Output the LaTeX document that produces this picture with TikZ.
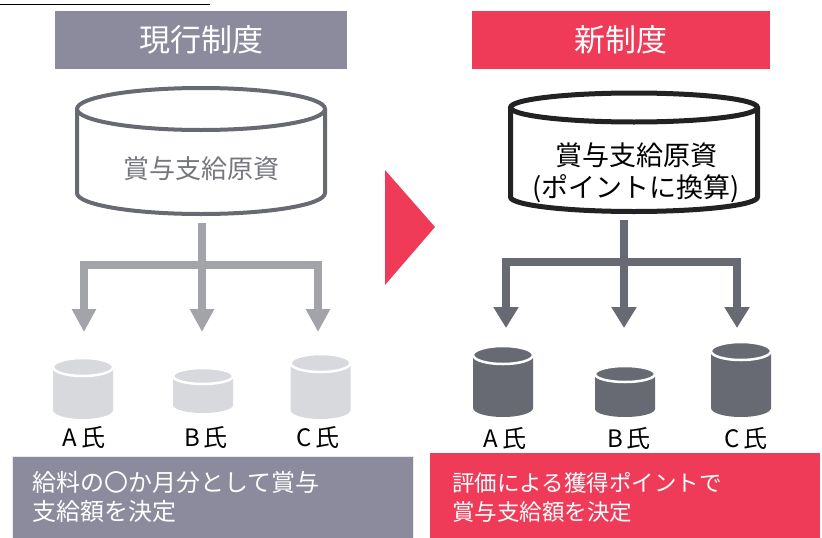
\documentclass[tikz,border=0pt]{standalone}
\usepackage{fontspec}
\setmainfont{Noto Sans CJK JP}
\usetikzlibrary{arrows.meta}
\definecolor{hdrgray}{RGB}{139,139,157}
\definecolor{hdrred}{RGB}{239,58,88}
\definecolor{cylgray}{RGB}{104,106,114}
\definecolor{cyltext}{RGB}{118,119,125}
\definecolor{arrlight}{RGB}{162,164,170}
\definecolor{smalllight}{RGB}{216,217,220}
\definecolor{darkgray}{RGB}{103,106,115}
\definecolor{cylblack}{RGB}{34,34,36}
\newcommand{\scyl}[6]{%
  \fill[#6] (#1-#4,#2+#5) -- (#1-#4,#3-#5) arc[start angle=180,end angle=0,x radius=#4,y radius=#5] -- (#1+#4,#2+#5) -- cycle;
  \filldraw[fill=#6,draw=white,line width=2.5pt] (#1,#2+#5) ellipse[x radius=#4,y radius=#5];
}
\begin{document}
\begin{tikzpicture}[x=1pt,y=-1pt,
  hdr/.style={text=white,inner sep=0pt,font=\fontsize{31}{31}\selectfont},
  lbl/.style={font=\fontsize{24}{24}\selectfont,inner sep=0pt},
  arrL/.style={draw=arrlight,line width=8pt,-{Triangle[width=23pt,length=23pt]}},
  arrR/.style={draw=darkgray,line width=8pt,-{Triangle[width=24pt,length=21pt]}},
  barL/.style={draw=arrlight,line width=8pt},
  barR/.style={draw=darkgray,line width=8pt}]
\useasboundingbox (0,0) rectangle (822,538);
% top cut underline
\draw[line width=1.5pt] (0,4.5) -- (210,4.5);
% headers
\node[hdr,fill=hdrgray,minimum width=292pt,minimum height=58pt] (hL) at (201,40) {現行制度};
\node[hdr,fill=hdrred,minimum width=298pt,minimum height=58pt] (hR) at (621,40) {新制度};
% left big cylinder
\filldraw[fill=white,draw=cylgray,line width=4pt] (77,109) -- (77,193) arc[start angle=180,end angle=0,x radius=124,y radius=21] -- (325,109);
\draw[draw=cylgray,line width=4pt,fill=white] (201,109) ellipse[x radius=124,y radius=21];
\node[font=\fontsize{26}{26}\selectfont,text=cyltext] (cL) at (201,169) {賞与支給原資};
% right big cylinder
\filldraw[fill=white,draw=cylblack,line width=5pt] (510.5,107.5) -- (510.5,197) arc[start angle=180,end angle=0,x radius=123.5,y radius=14.5] -- (757.5,107.5);
\draw[draw=cylblack,line width=5pt,fill=white] (634,107.5) ellipse[x radius=123.5,y radius=14.5];
\node[font=\fontsize{27}{32}\selectfont,align=center,text=black] (cR) at (636,173) {賞与支給原資\\(ポイントに換算)};
% red triangle
\fill[hdrred] (385,170) -- (435,227) -- (385,285) -- cycle;
% left arrows
\coordinate (Ls) at (202,223);
\coordinate (Lj) at (202,265);
\coordinate (LtA) at (84,332);
\coordinate (LtB) at (202,332);
\coordinate (LtC) at (318,332);
\draw[barL] (80,265) -- (322,265);
\draw[arrL] (Ls) -- (LtB);
\draw[arrL] (Lj) -| (LtA);
\draw[arrL] (Lj) -| (LtC);
% right arrows
\coordinate (Rs) at (624,220);
\coordinate (Rj) at (624,262);
\coordinate (RtA) at (506,328);
\coordinate (RtB) at (624,328);
\coordinate (RtC) at (737,328);
\draw[barR] (502,262) -- (741,262);
\draw[arrR] (Rs) -- (RtB);
\draw[arrR] (Rj) -| (RtA);
\draw[arrR] (Rj) -| (RtC);
% small cylinders left
\scyl{83}{358}{419}{30}{9}{smalllight}
\scyl{203}{368}{413}{30}{8}{smalllight}
\scyl{320.5}{354}{419}{30}{9}{smalllight}
% small cylinders right
\scyl{503}{346}{417}{30}{9}{darkgray}
\scyl{625}{366}{417}{30}{8}{darkgray}
\scyl{741}{342}{417}{30}{9}{darkgray}
% labels
\node[lbl] (lA) at (84,437) {A\hspace{4pt}氏};
\node[lbl] (lB) at (206,437) {B\hspace{4pt}氏};
\node[lbl] (lC) at (318,437) {C\hspace{4pt}氏};
\node[lbl] (rA) at (505,438) {A\hspace{4pt}氏};
\node[lbl] (rB) at (629,438) {B\hspace{4pt}氏};
\node[lbl] (rC) at (746,438) {C\hspace{4pt}氏};
% bottom boxes
\filldraw[fill=hdrgray,draw=white!80!hdrgray,line width=1pt] (12,456) rectangle (413,540);
\node[anchor=west,align=left,text=white,inner sep=0pt,font=\fontsize{24}{29}\selectfont] (tL) at (32,497) {給料の〇か月分として賞与\\支給額を決定};
\fill[hdrred] (430,453) rectangle (820,540);
\node[anchor=west,align=left,text=white,inner sep=0pt,font=\fontsize{22.5}{29}\selectfont] (tR) at (452,497) {評価による獲得ポイントで\\賞与支給額を決定};
\end{tikzpicture}
\end{document}
